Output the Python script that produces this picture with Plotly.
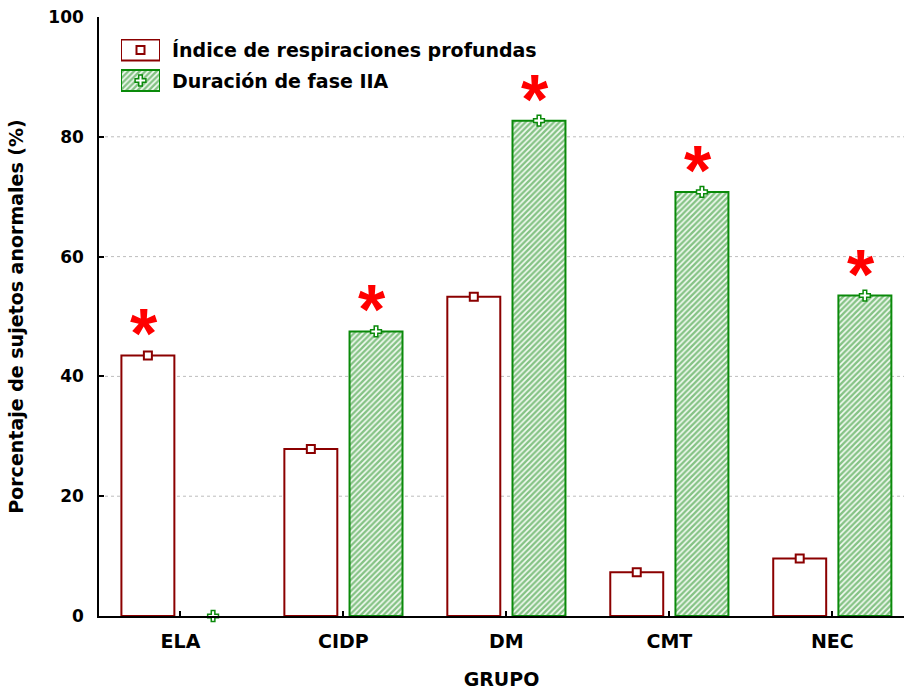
import plotly.graph_objects as go

# ---------------- data ----------------
categories = ["ELA", "CIDP", "DM", "CMT", "NEC"]
indice_resp = [43.5, 27.9, 53.3, 7.3, 9.6]      # Índice de respiraciones profundas
duracion_iia = [0.0, 47.5, 82.7, 70.8, 53.5]    # Duración de fase IIA
sig_indice = [True, False, False, False, False]
sig_duracion = [False, True, True, True, True]
y_ticks = [0, 20, 40, 60, 80, 100]
grid_vals = [20, 40, 60, 80]
series_names = ["Índice de respiraciones profundas", "Duración de fase IIA"]
x_title = "GRUPO"
y_title = "Porcentaje de sujetos anormales (%)"

# ---------------- style ----------------
RED = "#8B0000"
GREEN = "#0A8A0A"
STAR = "#FF0000"
OFF = 0.2
BW = 0.325
W, H = 904, 692
ML, MR, MT, MB = 99, 0, 17, 76
PW, PH = W - ML - MR, H - MT - MB
BOLD = "DejaVu Sans"

def px_x(px):
    return (px - ML) / PW

def px_y(py):
    return (H - MB - py) / PH

idx = list(range(len(categories)))
x_red = [i - OFF for i in idx]
x_green = [i + OFF for i in idx]

red_marker = dict(symbol="square", size=8, color="white", line=dict(color=RED, width=2))
green_marker = dict(symbol="cross", size=9, color="white", line=dict(color=GREEN, width=1.5))
pattern = dict(shape="/", fgcolor="#168A16", bgcolor="#F4FBF4", size=4, solidity=0.6)

def red_bar(vals):
    return dict(color="white", line=dict(color=RED, width=[2 if v > 0 else 0 for v in vals]))

def green_bar(vals):
    return dict(color="white", line=dict(color=GREEN, width=[2 if v > 0 else 0 for v in vals]),
                pattern=pattern)

fig = go.Figure()
fig.add_bar(x=x_red, y=indice_resp, width=BW, marker=red_bar(indice_resp),
            showlegend=False, name=series_names[0])
fig.add_bar(x=x_green, y=duracion_iia, width=BW, marker=green_bar(duracion_iia),
            showlegend=False, name=series_names[1])
fig.add_scatter(x=x_red, y=indice_resp, mode="markers", marker=red_marker,
                showlegend=False, cliponaxis=False, hoverinfo="skip")
fig.add_scatter(x=x_green, y=duracion_iia, mode="markers", marker=green_marker,
                showlegend=False, cliponaxis=False, hoverinfo="skip")

# significance asterisks
annotations = []
for xs, vals, sig in ((x_red, indice_resp, sig_indice), (x_green, duracion_iia, sig_duracion)):
    for xv, v, s in zip(xs, vals, sig):
        if s:
            annotations.append(dict(x=xv, y=v, xref="x", yref="y", text="*", showarrow=False,
                                    yanchor="middle", xanchor="center", yshift=21, xshift=-4,
                                    font=dict(family="Liberation Sans", size=70, color=STAR, weight="bold")))

# custom legend (swatches drawn on a hidden helper axis whose units are pixels)
legend_centers = [50, 80.5]
legend_h = 21
fig.add_bar(x=[1], y=[legend_centers[0]], width=legend_h, base=0, orientation="h",
            marker=red_bar([1]), xaxis="x2", yaxis="y2", showlegend=False, hoverinfo="skip")
fig.add_bar(x=[1], y=[legend_centers[1]], width=legend_h, base=0, orientation="h",
            marker=green_bar([1]), xaxis="x2", yaxis="y2", showlegend=False, hoverinfo="skip")
fig.add_scatter(x=[0.5], y=[legend_centers[0]], mode="markers", marker=red_marker,
                xaxis="x2", yaxis="y2", showlegend=False, hoverinfo="skip")
fig.add_scatter(x=[0.5], y=[legend_centers[1]], mode="markers", marker=green_marker,
                xaxis="x2", yaxis="y2", showlegend=False, hoverinfo="skip")
for name, cy in zip(series_names, legend_centers):
    annotations.append(dict(x=px_x(170), y=px_y(cy), xref="paper", yref="paper", text=name,
                            showarrow=False, xanchor="left", yanchor="middle",
                            font=dict(family=BOLD, size=19, color="black", weight="bold")))

# dotted grid lines
shapes = [dict(type="line", xref="paper", yref="y", x0=0, x1=1, y0=g, y1=g,
               line=dict(color="#BDBDBD", width=1, dash="dot"), layer="below") for g in grid_vals]

fig.update_layout(
    width=W, height=H, margin=dict(l=ML, r=MR, t=MT, b=MB, pad=0),
    paper_bgcolor="white", plot_bgcolor="white",
    barmode="overlay", showlegend=False,
    annotations=annotations, shapes=shapes,
    xaxis=dict(range=[-0.5, 4.44], tickvals=idx, ticktext=categories,
               ticks="inside", ticklen=5, tickwidth=1.5, tickcolor="black",
               showline=True, linecolor="black", linewidth=1.5,
               showgrid=False, zeroline=False, automargin=False,
               ticklabelstandoff=7,
               tickfont=dict(family=BOLD, size=19, color="black", weight="bold"),
               title=dict(text=x_title, standoff=22,
                          font=dict(family=BOLD, size=19, color="black", weight="bold"))),
    yaxis=dict(range=[0, 100], tickvals=y_ticks, ticks="inside", ticklen=5, tickwidth=1.5,
               tickcolor="black", showline=True, linecolor="black", linewidth=1.5,
               showgrid=False, zeroline=False, automargin=False,
               ticklabelstandoff=10,
               tickfont=dict(family=BOLD, size=17, color="black", weight="bold"),
               title=dict(text=y_title, standoff=20,
                          font=dict(family=BOLD, size=19, color="black", weight="bold"))),
    xaxis2=dict(domain=[px_x(121), px_x(160)], range=[0, 1], visible=False, anchor="y2",
                fixedrange=True),
    yaxis2=dict(domain=[px_y(92), px_y(39)], range=[92, 39], visible=False, anchor="x2",
                fixedrange=True),
)

fig.write_html("out.html")
